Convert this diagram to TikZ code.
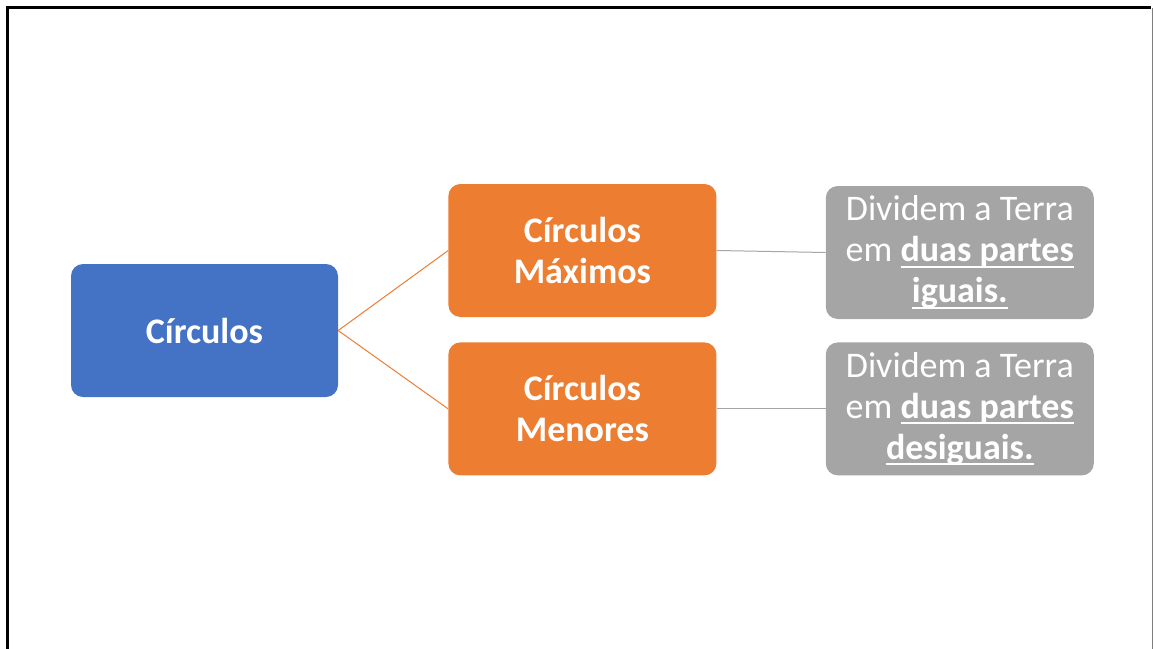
\documentclass[tikz,border=0pt]{standalone}
\usepackage{fontspec}
\setmainfont{Carlito}
\usetikzlibrary{positioning}
\definecolor{rootblue}{HTML}{4472C4}
\definecolor{branchorange}{HTML}{ED7D31}
\definecolor{notegray}{HTML}{A5A5A5}
\newcommand{\undl}[1]{\leavevmode\setbox0=\hbox{#1}\rlap{\rule[-6pt]{\wd0}{2pt}}\box0}

\begin{document}
\begin{tikzpicture}[x=1pt, y=-1pt,
			basebox/.style={rectangle, rounded corners=12pt, minimum width=268pt, minimum height=133pt, inner sep=0pt, align=center, text=white, font=\fontsize{36}{41}\selectfont},
			rootbox/.style={basebox, fill=rootblue, minimum width=267pt, font=\fontsize{36}{41}\selectfont\bfseries},
			branchbox/.style={basebox, fill=branchorange, font=\fontsize{36}{41}\selectfont\bfseries},
			notebox/.style={basebox, fill=notegray},
			orangelink/.style={draw=branchorange, line width=1pt},
			graylink/.style={draw=notegray, line width=1pt}
			]
			\useasboundingbox (0,0) rectangle (1154,648);
			\draw[line width=3pt] (7.5,650) -- (7.5,7.5) -- (1151,7.5);
			\draw[gray, line width=1.5pt] (1152.5,7.5) -- (1152.5,650);
			\node[rootbox] (circ) at (204.5,330.5) {Círculos};
			\node[branchbox, right=110pt of circ, yshift=80pt] (maximos) {Círculos\\Máximos};
			\node[branchbox, below=25pt of maximos] (menores) {Círculos\\Menores};
			\node[notebox, right=109pt of maximos, yshift=-2pt] (notemax) {Dividem a Terra\\em \textbf{\undl{duas partes}}\\\textbf{\undl{iguais.}}};
			\node[notebox, right=109pt of menores] (notemen) {Dividem a Terra\\em \textbf{\undl{duas partes}}\\\textbf{\undl{desiguais.}}};
			\draw[orangelink] (circ.east) -- (maximos.west);
			\draw[orangelink] (circ.east) -- (menores.west);
			\draw[graylink] (maximos.east) -- (notemax.west);
			\draw[graylink] (menores.east) -- (notemen.west);
		\end{tikzpicture}
\end{document}
